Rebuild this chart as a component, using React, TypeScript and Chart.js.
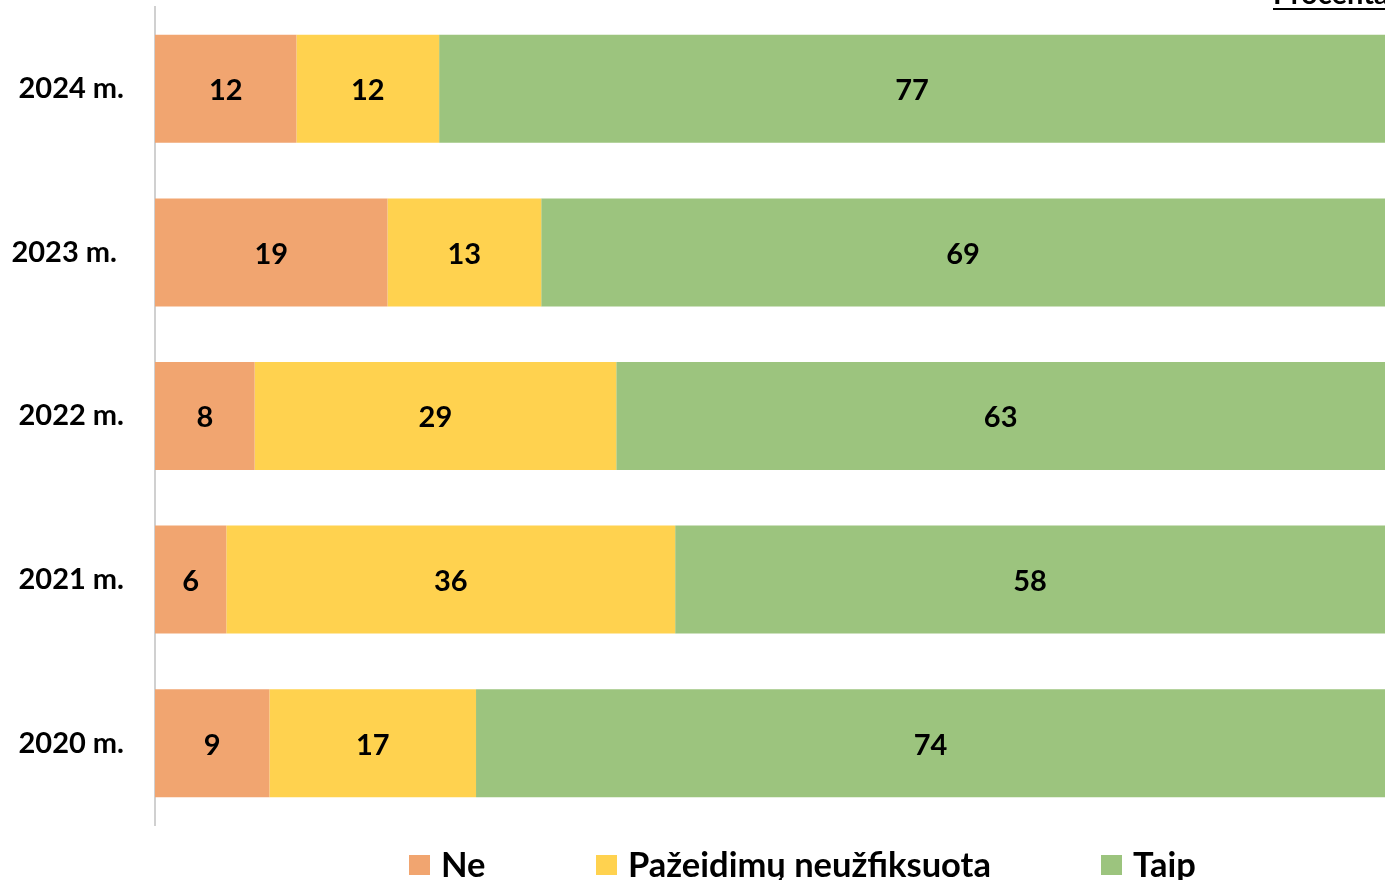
import React, { useEffect, useRef } from "react";
import { Chart, registerables } from "chart.js";

Chart.register(...registerables);

const years = ["2024 m.", "2023 m. ", "2022 m.", "2021 m.", "2020 m."];
const ne = [11.5, 18.9, 8.1, 5.8, 9.3];
const nefiks = [11.6, 12.5, 29.4, 36.49, 16.8];
const taip = [76.9, 68.6, 62.5, 57.71, 73.9];
const seriesNames = ["Ne", "Pažeidimų neužfiksuota", "Taip"];
const seriesColors = ["#F1A570", "#FFD24F", "#9CC47E"];
const unitLabel = "Procentai";

const FONT = "bold 29px Lato";
const LEGEND_FONT = "bold 34.5px Lato";

const dataLabelPlugin = {
  id: "dataLabels",
  afterDatasetsDraw(chart: any) {
    const ctx = chart.ctx;
    ctx.save();
    ctx.font = FONT;
    ctx.fillStyle = "#000";
    ctx.textAlign = "center";
    ctx.textBaseline = "middle";
    chart.data.datasets.forEach((ds: any, di: number) => {
      const meta = chart.getDatasetMeta(di);
      meta.data.forEach((el: any, i: number) => {
        const v = ds.data[i];
        const cx = (el.x + el.base) / 2;
        ctx.fillText(String(Math.round(v)), cx, el.y + 2);
      });
    });
    ctx.restore();
  },
};

const legendPlugin = {
  id: "customLegend",
  afterDraw(chart: any) {
    const ctx = chart.ctx;
    const xs = [409, 596, 1101];
    ctx.save();
    ctx.font = LEGEND_FONT;
    ctx.textAlign = "left";
    ctx.textBaseline = "alphabetic";
    chart.data.datasets.forEach((ds: any, i: number) => {
      const x = xs[i];
      ctx.fillStyle = ds.backgroundColor;
      ctx.fillRect(x, 855, 21, 20);
      ctx.fillStyle = "#000";
      ctx.fillText(ds.label, x + 32, 877);
    });
    // unit label at top right
    ctx.font = FONT;
    ctx.fillText(unitLabel, 1273, 4);
    const w = ctx.measureText(unitLabel).width;
    ctx.fillRect(1273, 8, w, 2);
    ctx.restore();
  },
};

export default function App() {
  const ref = useRef<HTMLCanvasElement>(null);
  useEffect(() => {
    if (!ref.current) return;
    const chart = new Chart(ref.current, {
      type: "bar",
      data: {
        labels: years,
        datasets: [ne, nefiks, taip].map((d, i) => ({
          label: seriesNames[i],
          data: d,
          backgroundColor: seriesColors[i],
          borderWidth: 0,
          categoryPercentage: 1,
          barPercentage: 0.66,
        })),
      },
      options: {
        indexAxis: "y",
        responsive: false,
        animation: false,
        layout: { padding: { top: 7, bottom: 55, left: 0, right: 0 } },
        plugins: { legend: { display: false }, tooltip: { enabled: false } },
        scales: {
          x: { stacked: true, min: 0, max: 100, display: false },
          y: {
            stacked: true,
            grid: { display: false, drawTicks: false },
            border: { display: true, color: "#D0D0D0", width: 2 },
            ticks: {
              color: "#000",
              font: { family: "Lato", weight: "bold", size: 29 },
              padding: 31,
            },
            afterFit(scale: any) {
              scale.width = 155;
              scale.paddingTop = 0;
              scale.paddingBottom = 0;
            },
          },
        },
      },
      plugins: [dataLabelPlugin, legendPlugin],
    });
    return () => chart.destroy();
  }, []);
  return (
    <div style={{ position: "fixed", left: 0, top: 0, width: 1385, height: 880, background: "#fff" }}>
      <canvas ref={ref} width={1385} height={880} style={{ display: "block" }} />
    </div>
  );
}
